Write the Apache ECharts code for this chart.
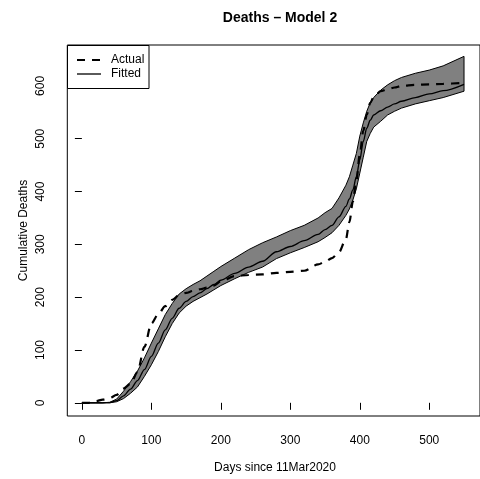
<!DOCTYPE html>
<html>
<head>
<meta charset="utf-8">
<script src="https://cdn.jsdelivr.net/npm/echarts@6/dist/echarts.min.js"></script>
<style>
html,body{margin:0;padding:0;background:#fff;}
#chart{width:480px;height:479px;}
</style>
</head>
<body>
<div id="chart"></div>
<script>
// ---- data ----
var days   = [0,10,20,30,40,50,60,70,80,90,100,110,120,130,140,150,160,170,180,190,200,220,240,260,280,300,320,340,350,360,370,380,385,390,395,400,405,410,415,420,430,440,450,460,480,500,520,550];
var fitted = [0,0,0,0,0.5,4,13,26,42,63,88,113,138,160,179,192,201,208,216,224,232,245,257,268,286,296,307,319,328,336,352,372,386,403,428,460,495,520,535,545,553,560,566,571,578,585,591,603];
var lower  = [0,0,0,0,0,2,8,18,30,50,72,97,125,150,170,183,192,199,206,214,222,235,247,257,273,284,294,305,313,322,336,355,367,384,405,435,465,495,510,522,533,545,552,558,566,572,578,590];
var upper  = [0,0,0,0,1,7,22,40,60,85,113,140,167,188,206,216,224,231,240,249,258,274,290,303,314,326,336,350,360,368,388,412,428,450,472,505,530,552,568,578,592,602,610,616,624,630,638,656];
var actual = [0,0,3,6,9,15,27,36,58,106,150,168,183,195,204,208,212,215,218,222,230,240,242,243,246,248,250,262,267,274,285,310,342,381,420,470,515,545,568,579,590,594,597,600,602,603,604,606];
var xTicks = [0,100,200,300,400,500];
var yTicks = [0,100,200,300,400,500,600];
var titleText = 'Deaths \u2013 Model 2';
var xTitle = 'Days since 11Mar2020';
var yTitle = 'Cumulative Deaths';
var legendNames = ['Actual','Fitted'];

function pairs(xs, ys){ return xs.map(function(x,i){ return [x, ys[i]]; }); }

var FONT = 'Liberation Sans, Arial, Helvetica, sans-serif';
var chart = echarts.init(document.getElementById('chart'), null, {renderer:'canvas'});

var gridLeft = 67.3, gridTop = 45, gridW = 415.8, gridH = 371;

var option = {
  animation: false,
  backgroundColor: '#fff',
  title: {
    text: titleText, left: 275, top: 6, textAlign: 'center',
    textStyle: {fontFamily: FONT, fontSize: 14, fontWeight: 'bold', color: '#000'}
  },
  grid: {left: gridLeft, top: gridTop, width: gridW, height: gridH, show: true, borderColor: '#000', borderWidth: 1, backgroundColor: 'transparent'},
  xAxis: {
    type: 'value', min: -21, max: 573,
    splitLine: {show: false},
    axisLine: {show: false},
    axisTick: {show: true, inside: false, length: 7, customValues: xTicks, lineStyle: {color: '#000', width: 1}},
    axisLabel: {show: true, customValues: xTicks, margin: 19, color: '#000', fontFamily: FONT, fontSize: 12}
  },
  yAxis: {
    type: 'value', min: -25, max: 677.5,
    splitLine: {show: false},
    axisLine: {show: false},
    axisTick: {show: true, inside: false, length: 7, customValues: yTicks, lineStyle: {color: '#000', width: 1}},
    axisLabel: {show: true, customValues: yTicks, margin: 21, rotate: 90, color: '#000', fontFamily: FONT, fontSize: 12}
  },
  series: [
    {
      type: 'custom', name: 'band', z: 1,
      data: [[0, 0]],
      renderItem: function(params, api){
        var pts = [];
        for (var i = 0; i < days.length; i++) pts.push(api.coord([days[i], upper[i]]));
        for (var j = days.length - 1; j >= 0; j--) pts.push(api.coord([days[j], lower[j]]));
        return {
          type: 'polygon',
          shape: {points: pts},
          style: {fill: '#808080', stroke: '#000', lineWidth: 1}
        };
      }
    },
    {
      type: 'line', name: 'Fitted', z: 3,
      data: pairs(days, fitted),
      showSymbol: false, symbol: 'none', smooth: 0.3, smoothMonotone: 'x',
      lineStyle: {color: '#000', width: 1.3}
    },
    {
      type: 'line', name: 'Actual', z: 4,
      data: pairs(days, actual),
      showSymbol: false, symbol: 'none', smooth: 0.3, smoothMonotone: 'x',
      lineStyle: {color: '#000', width: 2.2, type: [8, 7]}
    }
  ],
  graphic: [
    {type: 'text', x: 275, y: 468, style: {text: xTitle, align: 'center', verticalAlign: 'middle', font: '12px ' + FONT, fill: '#000'}},
    {type: 'text', x: 24, y: 230.5, rotation: Math.PI/2, style: {text: yTitle, align: 'center', verticalAlign: 'middle', font: '12px ' + FONT, fill: '#000'}},
    {type: 'rect', shape: {x: 67.5, y: 45.5, width: 81.5, height: 43}, style: {fill: '#fff', stroke: '#000', lineWidth: 1}, z: 10},
    {type: 'line', shape: {x1: 77, y1: 60, x2: 101, y2: 60}, style: {stroke: '#000', lineWidth: 2.2, lineDash: [8, 7]}, z: 11},
    {type: 'line', shape: {x1: 77, y1: 74, x2: 101, y2: 74}, style: {stroke: '#000', lineWidth: 1.3}, z: 11},
    {type: 'text', x: 111, y: 60, style: {text: legendNames[0], align: 'left', verticalAlign: 'middle', font: '12px ' + FONT, fill: '#000'}, z: 11},
    {type: 'text', x: 111, y: 74, style: {text: legendNames[1], align: 'left', verticalAlign: 'middle', font: '12px ' + FONT, fill: '#000'}, z: 11}
  ]
};
chart.setOption(option);
</script>
</body>
</html>
